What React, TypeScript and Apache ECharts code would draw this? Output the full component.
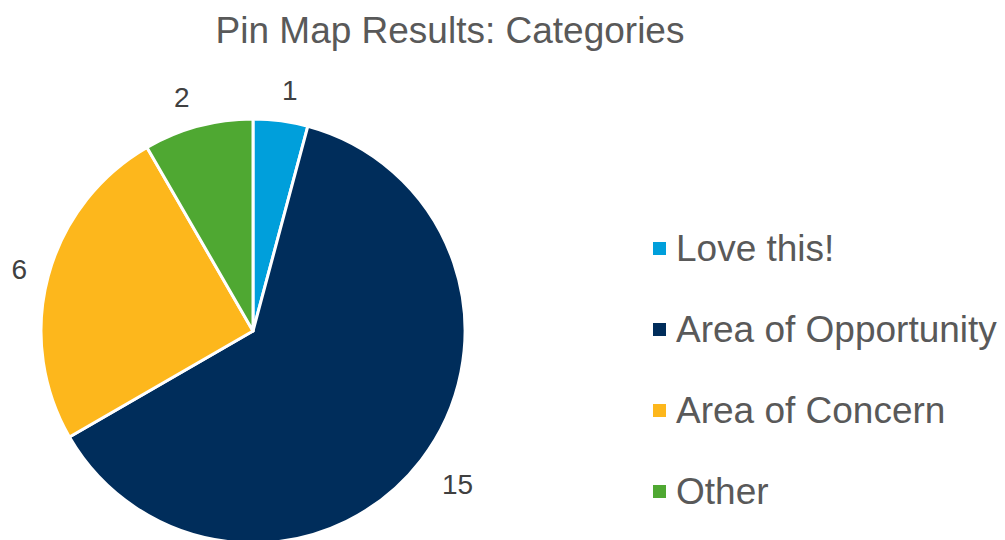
import React, { useEffect, useRef } from "react";
import * as echarts from "echarts";

const categories = ["Love this!", "Area of Opportunity", "Area of Concern", "Other"];
const values = [1, 15, 6, 2];
const colors = ["#009FDB", "#002D5B", "#FDB71C", "#4FA832"];
const titleText = "Pin Map Results: Categories";

export default function App() {
  const ref = useRef<HTMLDivElement>(null);
  useEffect(() => {
    document.body.style.margin = "0";
    const chart = echarts.init(ref.current!, null, { renderer: "svg" });
    const font = "'Liberation Sans', Arial, sans-serif";
    const labelNudge: Record<string, number[]> = {
      "Love this!": [-7, -6],
      "Area of Opportunity": [-4, 9],
      "Area of Concern": [8, 0],
      Other: [3, -5],
    };
    chart.setOption({
      animation: false,
      backgroundColor: "#ffffff",
      title: {
        text: titleText,
        left: 450,
        top: 12,
        textAlign: "center",
        padding: 0,
        textStyle: { fontFamily: font, fontSize: 37, fontWeight: "normal", color: "#595959", lineHeight: 37 },
      },
      legend: {
        orient: "vertical",
        left: 651,
        top: 230,
        padding: 0,
        icon: "rect",
        itemWidth: 15,
        itemHeight: 15,
        itemGap: 44,
        data: categories,
        textStyle: { fontFamily: font, fontSize: 37, color: "#595959", lineHeight: 37, padding: [0, 0, 0, 4] },
      },
      series: [
        {
          type: "pie",
          center: [253, 331],
          radius: 212,
          startAngle: 90,
          clockwise: true,
          avoidLabelOverlap: false,
          itemStyle: { borderColor: "#ffffff", borderWidth: 3 },
          label: {
            show: true,
            position: "outside",
            formatter: "{c}",
            fontFamily: font,
            fontSize: 28,
            color: "#404040",
            distanceToLabelLine: 5,
          },
          labelLine: { show: false, length: 25, length2: 0 },
          emphasis: { disabled: true },
          data: categories.map((name, i) => ({
            name,
            value: values[i],
            itemStyle: { color: colors[i] },
            label: { offset: labelNudge[name] },
          })),
        },
      ],
    });
    return () => chart.dispose();
  }, []);
  return <div ref={ref} style={{ position: "fixed", left: 0, top: 0, width: 1005, height: 540 }} />;
}
